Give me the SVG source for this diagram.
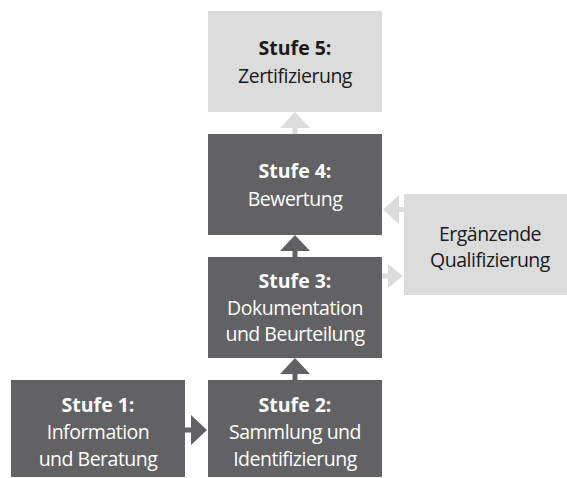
<svg xmlns="http://www.w3.org/2000/svg" width="567" height="478" viewBox="0 0 567 478">
<style>
.dark{fill:#626264}
.light{fill:#dcdcdd}
text{font-family:"Open Sans","Liberation Sans",sans-serif;font-size:19.5px;letter-spacing:-0.5px;text-anchor:middle}
.b{font-weight:bold;letter-spacing:0}
.w{fill:#ffffff}
.k{fill:#1a1a1a}
</style>
<rect width="567" height="478" fill="#ffffff"/>
<g id="connectors">
<path class="light" d="M280 128 L295 112 L310 128 L297.5 128 L297.5 134 L292.5 134 L292.5 128 Z"/>
<path class="dark" d="M280 251 L295 235 L310 251 L297.5 251 L297.5 257 L292.5 257 L292.5 251 Z"/>
<path class="dark" d="M280 374 L295 358 L310 374 L297.5 374 L297.5 380 L292.5 380 L292.5 374 Z"/>
<path class="dark" d="M191 415 L207 430 L191 445 L191 432.5 L185 432.5 L185 427.5 L191 427.5 Z"/>
<path class="light" d="M399 195 L383 209.5 L399 224 L399 212 L404 212 L404 207 L399 207 Z"/>
<path class="light" d="M388 264 L403 276 L388 288 L388 278.5 L382 278.5 L382 273.5 L388 273.5 Z"/>
</g>
<g id="stufe5">
<rect class="light" x="208" y="11" width="174" height="101"/>
<text class="b k" x="295" y="55">Stufe 5:</text>
<text class="k" x="295" y="83">Zertifizierung</text>
</g>
<g id="stufe4">
<rect class="dark" x="208" y="134" width="174" height="101"/>
<text class="b w" x="295" y="178">Stufe 4:</text>
<text class="w" x="295" y="206">Bewertung</text>
</g>
<g id="stufe3">
<rect class="dark" x="208" y="257" width="174" height="101"/>
<text class="b w" x="295" y="288">Stufe 3:</text>
<text class="w" x="295" y="315">Dokumentation</text>
<text class="w" x="295" y="341">und Beurteilung</text>
</g>
<g id="stufe2">
<rect class="dark" x="208" y="380" width="174" height="97"/>
<text class="b w" x="295" y="412">Stufe 2:</text>
<text class="w" x="295" y="439">Sammlung und</text>
<text class="w" x="295" y="466">Identifizierung</text>
</g>
<g id="stufe1">
<rect class="dark" x="11" y="380" width="174" height="97"/>
<text class="b w" x="98" y="412">Stufe 1:</text>
<text class="w" x="98" y="439">Information</text>
<text class="w" x="98" y="466">und Beratung</text>
</g>
<g id="ergaenzende">
<rect class="light" x="404" y="194" width="163" height="101"/>
<text class="k" x="490" y="241">Ergänzende</text>
<text class="k" x="490" y="267">Qualifizierung</text>
</g>
</svg>
